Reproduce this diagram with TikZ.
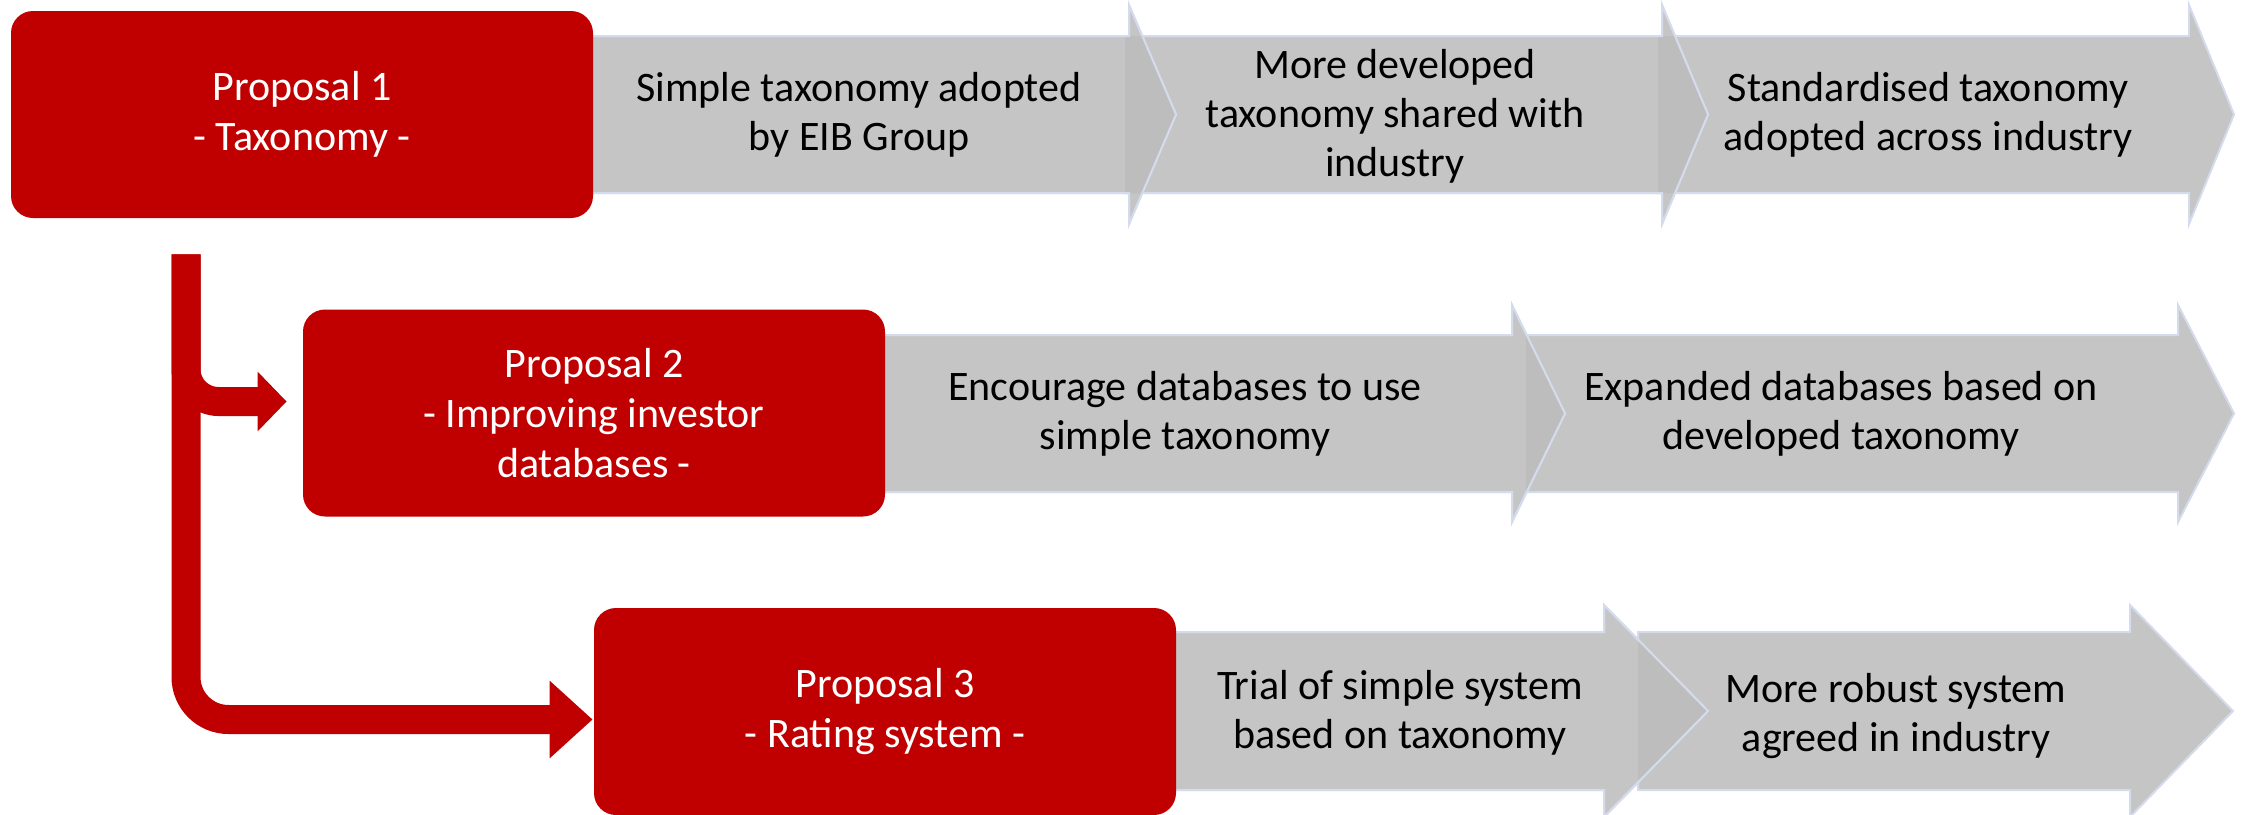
\documentclass[tikz,border=0pt]{standalone}
\usepackage{fontspec}
\setmainfont{Carlito}
\usetikzlibrary{arrows.meta}

\definecolor{propred}{RGB}{192,0,0}
\definecolor{stepgray}{RGB}{197,197,197}
\definecolor{stepdark}{RGB}{189,189,189}
\definecolor{stepline}{RGB}{212,219,236}

% chevron step: #1 options, #2 left, #3 head back, #4 tip, #5 mid y, #6 shaft half height, #7 head half height
\newcommand\chevstep[7]{%
  \path[#1] (#2,#5-#6) -- (#3,#5-#6) -- (#3,#5-#7) -- (#4,#5)
    -- (#3,#5+#7) -- (#3,#5+#6) -- (#2,#5+#6) -- cycle;}

% darker tone where a head lies over the following step
\newcommand\chevoverlap[2]{%
  \begin{scope}
    \chevstep{clip}#2
    \chevstep{fill=stepdark}#1
  \end{scope}}

\tikzset{
  x=0.5pt, y=-0.5pt,
  stepfill/.style={fill=stepgray},
  stepedge/.style={draw=stepline, line width=1pt, line join=miter},
  proposal/.style={fill=propred, rounded corners=11pt, minimum width=291pt,
    minimum height=103.5pt, inner sep=0pt, text=white, align=center,
    font=\fontsize{21pt}{25pt}\selectfont},
  steptext/.style={text=black, align=center, inner sep=0pt,
    font=\fontsize{21pt}{24.5pt}\selectfont},
  conn/.style={draw=propred, line width=14.5pt},
}

\begin{document}
\begin{tikzpicture}
\useasboundingbox (0,0) rectangle (2241,814);

% ---------- row 1 ----------
\chevstep{stepfill,stepedge}{1658}{2189}{2234}{114.5}{78.5}{109.5}
\chevstep{stepfill,stepedge}{1125}{1662}{1708}{114.5}{78.5}{109.5}
\chevoverlap{{1125}{1662}{1708}{114.5}{78.5}{109.5}}{{1658}{2189}{2234}{114.5}{78.5}{109.5}}
\chevstep{stepedge}{1125}{1662}{1708}{114.5}{78.5}{109.5}
\chevstep{stepfill,stepedge}{302}{1129}{1176}{114.5}{78.5}{109.5}
\chevoverlap{{302}{1129}{1176}{114.5}{78.5}{109.5}}{{1125}{1662}{1708}{114.5}{78.5}{109.5}}
\chevstep{stepedge}{302}{1129}{1176}{114.5}{78.5}{109.5}

% ---------- row 2 ----------
\chevstep{stepfill,stepedge}{1526}{2178}{2234}{413.5}{78.5}{108.5}
\chevstep{stepfill,stepedge}{594}{1512}{1565}{413.5}{78.5}{108.5}
\chevoverlap{{594}{1512}{1565}{413.5}{78.5}{108.5}}{{1526}{2178}{2234}{413.5}{78.5}{108.5}}
\chevstep{stepedge}{594}{1512}{1565}{413.5}{78.5}{108.5}

% ---------- row 3 ----------
\chevstep{stepfill,stepedge}{1638}{2130}{2233}{711}{79}{106}
\chevstep{stepfill,stepedge}{885}{1604}{1708}{711}{79}{106}
\chevoverlap{{885}{1604}{1708}{711}{79}{106}}{{1638}{2130}{2233}{711}{79}{106}}
\chevstep{stepedge}{885}{1604}{1708}{711}{79}{106}

% ---------- proposals ----------
\node[proposal] (p1) at (302,114.5) {Proposal 1\\- Taxonomy -};
\node[proposal] (p2) at (594,413) {Proposal 2\\- Improving investor\\databases -};
\node[proposal] (p3) at (885,711.5) {Proposal 3\\- Rating system -};

% ---------- step labels ----------
\node[steptext] (s11) at (859,114.5) {Simple taxonomy adopted\\by EIB Group};
\node[steptext] (s12) at (1395,116) {More developed\\taxonomy shared with\\industry};
\node[steptext] (s13) at (1928,114.5) {Standardised taxonomy\\adopted across industry};
\node[steptext] (s21) at (1185,413.5) {Encourage databases to use\\simple taxonomy};
\node[steptext] (s22) at (1841,413.5) {Expanded databases based on\\developed taxonomy};
\node[steptext] (s31) at (1400,713) {Trial of simple system\\based on taxonomy};
\node[steptext] (s32) at (1896,716) {More robust system\\agreed in industry};

% ---------- red connectors from proposal 1 ----------
\coordinate (trunk) at ([xshift=-58pt, yshift=-18pt]p1.south);
\draw[conn, rounded corners=21.25pt, -{Triangle[length=21.5pt, width=37.5pt]}]
  (trunk) |- ([xshift=-0.5pt, yshift=-4pt]p3.west);
\draw[conn, rounded corners=16.25pt, -{Triangle[length=14.5pt, width=29pt]}]
  (trunk) |- ([xshift=-8pt, yshift=5.75pt]p2.west);
\end{tikzpicture}
\end{document}
